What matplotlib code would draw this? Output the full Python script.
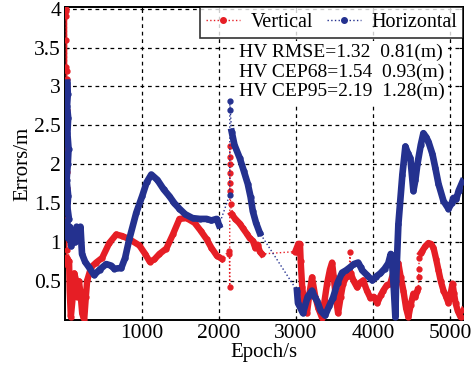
import matplotlib
matplotlib.use("Agg")
import matplotlib.pyplot as plt
from matplotlib.lines import Line2D

plt.rcParams['font.family'] = ['Liberation Serif', 'DejaVu Serif']

red = '#e61e25'
blue = '#24318f'

# Horizontal error, dense pieces (gaps between them are joined by dotted line)
hor_x1 = [30, 35, 25, 40, 30, 45, 35, 20, 40, 30, 50, 20, 40, 60, 80, 100, 130, 150, 180, 200, 220, 260,
          310, 378, 450, 534, 600, 640, 730, 780, 834, 925, 1004, 1060, 1120, 1200, 1280, 1356, 1420,
          1486, 1560, 1656, 1750, 1838, 1900, 1969, 2000]
hor_y1 = [3.05, 2.9, 2.75, 2.6, 2.4, 2.2, 2.0, 1.8, 1.6, 1.45, 1.3, 1.25, 1.05, 1.2, 0.95, 1.15, 1.0, 1.2,
          1.1, 1.2, 0.85, 0.75, 0.68, 0.58, 0.65, 0.72, 0.7, 0.66, 0.67, 0.8, 1.04, 1.38, 1.6, 1.77, 1.87,
          1.8, 1.68, 1.59, 1.5, 1.43, 1.36, 1.31, 1.3, 1.3, 1.28, 1.3, 1.22]
hor_xg1 = [2138, 2140, 2145]
hor_yg1 = [1.61, 2.82, 2.70]
hor_x2 = [2164, 2200, 2269, 2320, 2373, 2410, 2438, 2480, 2529]
hor_y2 = [2.42, 2.25, 2.08, 1.92, 1.75, 1.58, 1.40, 1.25, 1.12]
hor_x3 = [3012, 3025, 3060, 3090, 3150, 3207, 3240, 3272, 3320, 3377, 3430, 3481, 3540, 3598, 3650, 3703,
          3750, 3807, 3840, 3859, 3920, 3990, 4040, 4094, 4150, 4198, 4230, 4250, 4270, 4290, 4300, 4329,
          4381, 4420, 4450, 4485, 4524, 4550, 4576, 4620, 4654, 4690, 4720, 4772, 4810, 4850, 4915, 4980,
          5020, 5045, 5080, 5111, 5163]
hor_y3 = [0.38, 0.22, 0.15, 0.09, 0.3, 0.38, 0.3, 0.25, 0.12, 0.06, 0.18, 0.29, 0.48, 0.61, 0.64, 0.68,
          0.72, 0.74, 0.68, 0.64, 0.58, 0.51, 0.56, 0.6, 0.66, 0.73, 0.85, 0.7, 0.4, 0.04, 0.5, 1.23,
          1.87, 2.23, 2.15, 2.08, 1.66, 1.8, 2.0, 2.25, 2.40, 2.35, 2.29, 2.13, 1.95, 1.75, 1.53, 1.43,
          1.5, 1.57, 1.55, 1.66, 1.78]

# Vertical error
ver_x0 = [15, 16, 17, 18, 18, 19, 19, 20, 20, 20, 21, 21, 21, 22, 22, 22, 22, 22, 22, 22, 20]
ver_y0 = [4.0, 3.97, 3.9, 3.6, 3.25, 3.2, 3.1, 3.0, 2.7, 2.6, 2.5, 2.35, 2.2, 2.0, 1.9, 1.7, 1.5, 1.3,
          1.1, 0.9, 0.8]
ver_x1 = [20, 40, 52, 60, 75, 100, 120, 143, 160, 180, 200, 222, 248, 270, 287, 339, 404, 482, 574, 665,
          743, 834, 965, 1040, 1100, 1160, 1225, 1316, 1400, 1486, 1578, 1682, 1760, 1838, 1900, 1969, 2033]
ver_y1 = [0.8, 0.7, 0.76, 0.38, 0.04, 0.3, 0.6, 0.51, 0.3, 0.5, 0.35, 0.09, 0.0, 0.3, 0.51, 0.68, 0.74,
          0.80, 0.99, 1.10, 1.08, 1.04, 0.96, 0.85, 0.75, 0.78, 0.85, 0.92, 1.1, 1.30, 1.31, 1.25, 1.15,
          1.04, 0.93, 0.83, 0.79]
ver_xg1 = [2130, 2135, 2138, 2140, 2141, 2142, 2143, 2144, 2145, 2150]
ver_yg1 = [0.89, 0.85, 0.42, 2.23, 2.10, 2.0, 1.89, 1.76, 1.66, 1.49]
ver_x2 = [2164, 2210, 2269, 2310, 2360, 2400, 2438, 2470, 2500, 2530, 2555]
ver_y2 = [1.36, 1.30, 1.24, 1.18, 1.11, 1.05, 1.02, 0.93, 0.97, 0.88, 0.85]
ver_x3 = [2990, 3030, 3051, 3060, 3080, 3110, 3142, 3175, 3207, 3250, 3290, 3338, 3370, 3403, 3440, 3468,
          3490, 3507, 3530, 3546, 3580, 3611, 3650, 3690]
ver_y3 = [0.88, 0.98, 0.98, 0.76, 0.42, 0.2, 0.09, 0.35, 0.55, 0.3, 0.15, 0.03, 0.25, 0.47, 0.65, 0.74,
          0.55, 0.38, 0.2, 0.09, 0.3, 0.47, 0.55, 0.57]
ver_xg2 = [3700]
ver_yg2 = [0.87]
ver_x4 = [3710, 3750, 3794, 3830, 3872, 3920, 3963, 4010, 4055, 4100, 4133, 4180, 4224, 4260, 4300, 4329,
          4360, 4394, 4430, 4459, 4490, 4524, 4550, 4576]
ver_y4 = [0.6, 0.5, 0.42, 0.48, 0.51, 0.38, 0.29, 0.3, 0.22, 0.32, 0.38, 0.45, 0.47, 0.6, 0.7, 0.73,
          0.55, 0.38, 0.15, 0.04, 0.2, 0.34, 0.3, 0.38]
ver_xg3 = [4590, 4592, 4594, 4600]
ver_yg3 = [0.41, 0.55, 0.66, 0.80]
ver_x5 = [4620, 4641, 4680, 4720, 4750, 4785, 4820, 4850, 4880, 4915, 4950, 4980, 5010, 5033, 5050, 5072,
          5100, 5137, 5176]
ver_y5 = [0.86, 0.89, 0.95, 0.99, 0.98, 0.93, 0.78, 0.64, 0.5, 0.38, 0.3, 0.22, 0.35, 0.47, 0.35, 0.22,
          0.12, 0.04, 0.13]

fig = plt.figure(figsize=(4.75, 3.71), dpi=100)
ax = fig.add_axes([0.137, 0.137, 0.838, 0.844])

# vertical first, horizontal on top
ver_all_x = ver_x0 + ver_x1 + ver_xg1 + ver_x2 + ver_x3 + ver_xg2 + ver_x4 + ver_xg3 + ver_x5
ver_all_y = ver_y0 + ver_y1 + ver_yg1 + ver_y2 + ver_y3 + ver_yg2 + ver_y4 + ver_yg3 + ver_y5
ax.plot(ver_all_x, ver_all_y, ':', color=red, lw=1, marker='o', ms=3.5, mec=red, mfc=red, zorder=3)
for xs, ys in [(ver_x1, ver_y1), (ver_x2, ver_y2), (ver_x3, ver_y3), (ver_x4, ver_y4), (ver_x5, ver_y5)]:
    ax.plot(xs, ys, '-', color=red, lw=4.6, solid_joinstyle='round', zorder=3)
ax.plot(ver_x0, ver_y0, '-', color=red, lw=1.2, zorder=3)

hor_all_x = hor_x1 + hor_xg1 + hor_x2 + hor_x3
hor_all_y = hor_y1 + hor_yg1 + hor_y2 + hor_y3
ax.plot(hor_all_x, hor_all_y, ':', color=blue, lw=1, marker='o', ms=3.5, mec=blue, mfc=blue, zorder=4)
for xs, ys in [(hor_x1, hor_y1), (hor_x2, hor_y2), (hor_x3, hor_y3)]:
    ax.plot(xs, ys, '-', color=blue, lw=4.8, solid_joinstyle='round', zorder=4)

ax.set_xlim(0, 5170)
ax.set_ylim(0, 4.02)
ax.set_xticks([1000, 2000, 3000, 4000, 5000])
ax.set_yticks([0.5, 1, 1.5, 2, 2.5, 3, 3.5, 4])
ax.set_yticklabels(['0.5', '1', '1.5', '2', '2.5', '3', '3.5', '4'])
ax.tick_params(direction='in', labelsize=15.5, length=3, top=True, right=True, pad=3)
ax.grid(True, color='black', linestyle=(0, (3, 3)), lw=0.9)
for s in ax.spines.values():
    s.set_linewidth(1.4)

ax.set_xlabel('Epoch/s', fontsize=15, labelpad=0)
ax.set_ylabel('Errors/m', fontsize=15, labelpad=1)

handles = [Line2D([], [], color=red, ls=':', lw=1, marker='o', ms=4),
           Line2D([], [], color=blue, ls=':', lw=1, marker='o', ms=4)]
leg = ax.legend(handles, ['Vertical', 'Horizontal'], loc='upper right', ncol=2, fontsize=14.5,
                frameon=True, fancybox=False, borderaxespad=0, handlelength=1.7, handletextpad=0.5,
                columnspacing=0.7, borderpad=0.3)
leg.get_frame().set_edgecolor('black')
leg.get_frame().set_linewidth(1.2)
leg.set_zorder(10)

ax.text(0.438, 0.882, 'HV RMSE=1.32  0.81(m)\nHV CEP68=1.54  0.93(m)\nHV CEP95=2.19  1.28(m)',
        transform=ax.transAxes, fontsize=14, va='top', ha='left', linespacing=1.15, zorder=9,
        bbox=dict(facecolor='white', edgecolor='none', pad=2))

fig.savefig('out.png', dpi=100)
